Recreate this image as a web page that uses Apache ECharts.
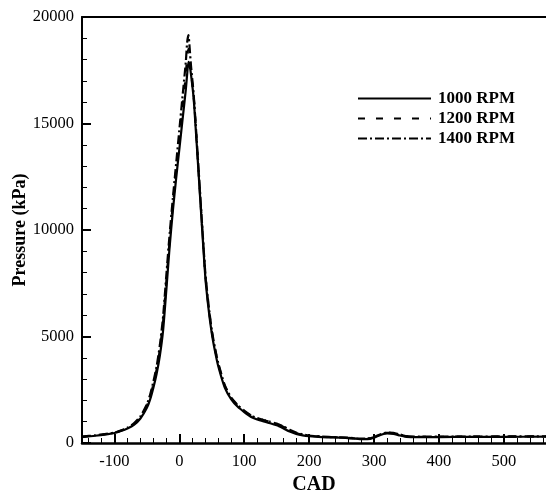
<!DOCTYPE html>
<html>
<head>
<meta charset="utf-8">
<script src="https://cdn.jsdelivr.net/npm/echarts@6/dist/echarts.min.js"></script>
<style>
  html, body { margin: 0; padding: 0; background: #fff; }
  #main { width: 546px; height: 493px; }
</style>
</head>
<body>
<div id="main"></div>
<script>
// crank angle (deg)
const cad = [-150,-130,-110,-100,-90,-80,-70,-60,-50,-45,
  -40,-35,-30,-25,-20,-15,-10,-5,0,5,
  10,12,14,16,18,22,26,30,35,40,
  45,50,55,60,70,80,90,100,110,120,
  130,140,150,160,170,180,190,200,220,240,
  260,280,290,300,310,320,330,340,350,370,
  400,450,500,565];

// cylinder pressure (kPa)
const p1000 = [280,340,420,470,560,680,850,1150,1650,2050,
  2600,3250,4100,5300,7200,9200,10900,12400,13800,15200,
  16600,17300,17900,17700,17300,16200,14400,12500,10100,7800,
  6300,5150,4300,3600,2600,2050,1700,1450,1230,1100,
  1010,930,830,690,540,430,360,320,280,260,
  230,180,180,250,380,450,430,350,290,280,
  280,290,290,300];

const p1200 = [290,350,430,480,580,700,890,1200,1750,2180,
  2750,3450,4400,5700,7600,9500,11200,12800,14300,15800,
  17300,18100,18500,18000,17400,16300,14500,12600,10200,7900,
  6400,5250,4400,3700,2680,2100,1750,1500,1290,1160,
  1070,990,900,760,600,470,390,340,300,270,
  240,200,200,270,400,480,470,390,310,290,
  290,300,300,310];

const p1400 = [300,360,440,490,590,720,920,1250,1820,2280,
  2880,3600,4600,5950,7900,9800,11500,13100,14700,16300,
  17900,18800,19150,18500,17700,16400,14600,12700,10300,8000,
  6500,5300,4450,3750,2720,2130,1780,1520,1300,1170,
  1080,1000,910,780,620,490,400,350,300,270,
  250,210,210,280,410,490,480,400,320,300,
  300,300,310,310];

const seriesNames = ['1000 RPM', '1200 RPM', '1400 RPM'];
const xMajorTicks = [-100, 0, 100, 200, 300, 400, 500];
const xMinorTicks = [-140,-120,-80,-60,-40,-20,20,40,60,80,120,140,160,180,
  220,240,260,280,320,340,360,380,420,440,460,480,520,540,560];

const serif = '"Liberation Serif", "Times New Roman", serif';

function toPairs(ys) {
  return cad.map((x, i) => [x, ys[i]]);
}

const chart = echarts.init(document.getElementById('main'));

const xBase = { type: 'value', min: -150, max: 565, splitLine: { show: false } };

const option = {
  animation: false,
  backgroundColor: '#fff',
  grid: { left: 82, right: 0, top: 17, bottom: 50, containLabel: false, outerBoundsMode: 'none' },
  legend: {
    orient: 'vertical',
    left: 352,
    top: 85,
    itemWidth: 73,
    itemHeight: 14,
    itemGap: 3,
    data: seriesNames,
    itemStyle: { opacity: 0 },
    textStyle: { fontFamily: serif, fontWeight: 'bold', fontSize: 17, color: '#000', padding: [0, 0, 0, 2] }
  },
  xAxis: [
    Object.assign({}, xBase, {
      position: 'bottom',
      name: 'CAD',
      nameLocation: 'middle',
      nameGap: 32,
      nameMoveOverlap: false,
      nameTextStyle: { fontFamily: serif, fontWeight: 'bold', fontSize: 20, color: '#000' },
      axisLine: { show: true, onZero: false, lineStyle: { color: '#000', width: 2.5 } },
      axisTick: { show: true, inside: true, length: 9, customValues: xMajorTicks, lineStyle: { color: '#000', width: 2 } },
      axisLabel: { customValues: xMajorTicks, margin: 10, fontFamily: serif, fontSize: 16.5, color: '#000' }
    }),
    Object.assign({}, xBase, {
      position: 'bottom',
      axisLine: { show: false, onZero: false },
      axisTick: { show: true, inside: true, length: 5, customValues: xMinorTicks, lineStyle: { color: '#000', width: 1 } },
      axisLabel: { show: false }
    }),
    Object.assign({}, xBase, {
      position: 'top',
      axisLine: { show: true, onZero: false, lineStyle: { color: '#000', width: 2 } },
      axisTick: { show: false },
      axisLabel: { show: false }
    })
  ],
  yAxis: {
    type: 'value',
    min: 0,
    max: 20000,
    interval: 5000,
    position: 'left',
    name: 'Pressure (kPa)',
    nameLocation: 'middle',
    nameGap: 53,
    nameMoveOverlap: false,
    nameTextStyle: { fontFamily: serif, fontWeight: 'bold', fontSize: 18, color: '#000' },
    axisLine: { show: true, onZero: false, lineStyle: { color: '#000', width: 2 } },
    axisTick: { show: true, inside: true, length: 9, lineStyle: { color: '#000', width: 2 } },
    minorTick: { show: true, splitNumber: 5, length: 5, lineStyle: { color: '#000', width: 1 } },
    axisLabel: { margin: 8, fontFamily: serif, fontSize: 16.5, color: '#000', formatter: (v) => String(v) },
    splitLine: { show: false }
  },
  series: [
    {
      name: seriesNames[0], type: 'line', data: toPairs(p1000), showSymbol: false, symbol: 'none', smooth: 0.2,
      lineStyle: { color: '#000', width: 2.2, type: 'solid' }, itemStyle: { color: '#000' }
    },
    {
      name: seriesNames[1], type: 'line', data: toPairs(p1200), showSymbol: false, symbol: 'none', smooth: 0.2,
      lineStyle: { color: '#000', width: 2.2, type: [7, 11] }, itemStyle: { color: '#000' }
    },
    {
      name: seriesNames[2], type: 'line', data: toPairs(p1400), showSymbol: false, symbol: 'none', smooth: 0.2,
      lineStyle: { color: '#000', width: 2.2, type: [9, 3, 2, 3] }, itemStyle: { color: '#000' }
    }
  ]
};

chart.setOption(option);
</script>
</body>
</html>
